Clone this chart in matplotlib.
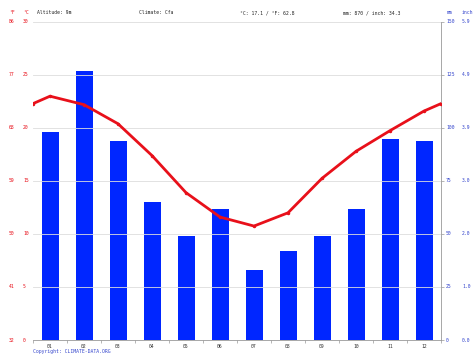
import numpy as np
import matplotlib.pyplot as plt
from matplotlib.transforms import blended_transform_factory

months = ["01", "02", "03", "04", "05", "06", "07", "08", "09", "10", "11", "12"]
precip_mm = [98, 127, 94, 65, 49, 62, 33, 42, 49, 62, 95, 94]
temp_c = [23.0, 22.2, 20.4, 17.4, 13.9, 11.6, 10.75, 12.0, 15.25, 17.8, 19.75, 21.6]

c_ticks = [0, 5, 10, 15, 20, 25, 30]
f_labels = ["32", "41", "50", "59", "68", "77", "86"]
mm_labels = ["0", "25", "50", "75", "100", "125", "150"]
inch_labels = ["0.0", "1.0", "2.0", "3.0", "3.9", "4.9", "5.9"]

header = {
    "altitude": "Altitude: 9m",
    "climate": "Climate: Cfa",
    "temp": "°C: 17.1 / °F: 62.8",
    "precip": "mm: 870 / inch: 34.3",
}

RED = "#e8101a"
BLUE = "#0026ff"
LBLUE = "#3344cc"
GRID = "#dddddd"
FONT = "DejaVu Sans Mono"
FS = 3.4

W, H = 474, 355
fig = plt.figure(figsize=(W / 100, H / 100), dpi=100)
ax = fig.add_axes([33 / W, 1 - 340 / H, (441 - 33) / W, (340 - 22) / H])
ax2 = ax.twinx()

x = np.arange(1, 13)
ax.bar(x, precip_mm, width=0.5, color=BLUE, zorder=2)
ax.set_ylim(0, 150)
ax.set_xlim(0.5, 12.5)

# temperature line wraps around the year at both edges
edge = (temp_c[0] + temp_c[-1]) / 2
tx = np.concatenate([[0.5], x, [12.5]])
ty = np.concatenate([[edge], temp_c, [edge]])
ax2.plot(tx, ty, color=RED, lw=2, marker="o", ms=1.5, zorder=3)
ax2.set_ylim(0, 30)

for c in c_ticks:
    ax2.axhline(c, color=GRID, lw=0.6, zorder=0)
ax.set_zorder(ax2.get_zorder() - 1)
ax2.patch.set_visible(False)

for a in (ax, ax2):
    for s in a.spines.values():
        s.set_visible(False)
    a.set_yticks([])
ax.spines["bottom"].set_visible(True)
ax.spines["bottom"].set_color("#999999")
ax.spines["bottom"].set_linewidth(0.6)
ax2.spines["right"].set_visible(True)
ax2.spines["right"].set_color("#999999")
ax2.spines["right"].set_linewidth(0.6)

ax.set_xticks(x)
ax.set_xticklabels(months, fontsize=FS, family=FONT, color="#333333")
ax.tick_params(axis="x", which="major", length=0, pad=3)
ax.set_xticks(np.arange(0.5, 13, 1), minor=True)
ax.tick_params(axis="x", which="minor", length=2, width=0.5, color="#999999")

ax2.set_yticks(c_ticks)
ax2.set_yticklabels([])
ax2.tick_params(axis="y", right=True, length=2, width=0.5, color="#999999")

tl = blended_transform_factory(fig.transFigure, ax2.transData)
for c, f, mm, inch in zip(c_ticks, f_labels, mm_labels, inch_labels):
    fig.text(9 / W, c, f, transform=tl, fontsize=FS, family=FONT, color=RED, va="center")
    fig.text(23 / W, c, str(c), transform=tl, fontsize=FS, family=FONT, color=RED, va="center")
    fig.text(446 / W, c, mm, transform=tl, fontsize=FS, family=FONT, color=LBLUE, va="center")
    fig.text(462 / W, c, inch, transform=tl, fontsize=FS, family=FONT, color=LBLUE, va="center")

hy = 1 - 13 / H
fig.text(9 / W, hy, "°F", fontsize=FS, family=FONT, color=RED, va="center")
fig.text(23 / W, hy, "°C", fontsize=FS, family=FONT, color=RED, va="center")
fig.text(37 / W, hy, header["altitude"], fontsize=FS, family=FONT, color="#222222", va="center")
fig.text(139 / W, hy, header["climate"], fontsize=FS, family=FONT, color="#222222", va="center")
fig.text(240 / W, hy, header["temp"], fontsize=FS, family=FONT, color="#222222", va="center")
fig.text(343 / W, hy, header["precip"], fontsize=FS, family=FONT, color="#222222", va="center")
fig.text(447 / W, hy, "mm", fontsize=FS, family=FONT, color=LBLUE, va="center")
fig.text(462 / W, hy, "inch", fontsize=FS, family=FONT, color=LBLUE, va="center")

fig.text(33 / W, 1 - 351 / H, "Copyright: CLIMATE-DATA.ORG", fontsize=FS, family=FONT,
         color=LBLUE, va="center")

fig.savefig("out.png", dpi=100)
